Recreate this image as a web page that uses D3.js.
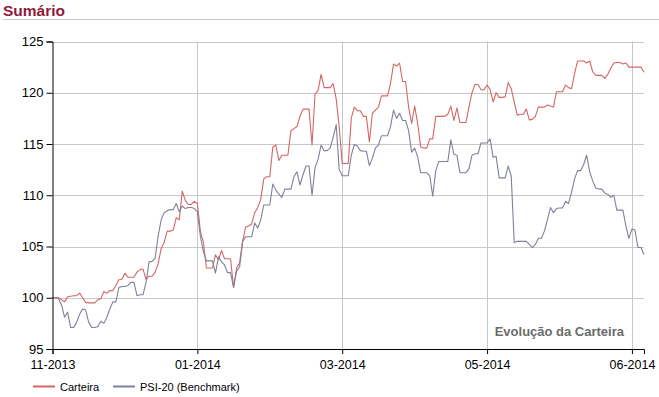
<!DOCTYPE html>
<html>
<head>
<meta charset="utf-8">
<script src="https://cdn.jsdelivr.net/npm/d3@7"></script>
<style>
  html, body { margin: 0; padding: 0; background: #fff; }
  svg { display: block; }
  text { font-family: Arial, "Liberation Sans", sans-serif; }
</style>
</head>
<body>
<svg id="chart" width="659" height="397"></svg>
<script>
// ---- data ----
const carteira = [
  100.0, 100.0, 100.0, 99.8, 99.6, 100.1, 100.15, 100.2, 100.2, 100.45,
  100.0, 99.55, 99.5, 99.5, 99.5, 99.8, 99.9, 100.6, 100.45, 100.7,
  100.7, 101.2, 101.75, 101.8, 102.4, 102.0, 102.0, 102.0, 102.5, 102.75,
  102.8, 101.8, 102.1, 102.1, 102.5, 103.3, 104.8, 105.4, 106.5, 106.5,
  106.6, 107.8, 107.6, 110.4, 109.5, 109.1, 109.1, 109.4, 109.2, 106.5,
  105.4, 102.9, 102.9, 102.9, 104.2, 103.7, 104.6, 103.8, 103.8, 103.8,
  101.0, 102.9, 103.4, 105.5, 106.9, 107.0, 107.2, 108.3, 108.8, 109.6,
  111.6, 111.8, 111.8, 114.7, 114.9, 113.4, 113.9, 113.9, 113.9, 116.3,
  116.5, 116.7, 117.7, 118.4, 118.4, 118.4, 114.9, 119.9, 120.2, 121.8,
  120.5, 120.5, 120.5, 120.9, 119.4, 116.7, 113.1, 113.1, 113.1, 117.5,
  118.6, 118.25, 118.25, 117.7, 117.7, 115.2, 118.0, 118.3, 118.6, 119.7,
  119.7, 119.7, 120.9, 122.8, 122.6, 122.9, 121.1, 121.1, 118.6, 117.0,
  118.7, 117.0, 114.7, 114.6, 114.6, 115.5, 115.5, 117.7, 117.7, 117.7,
  117.7, 117.9, 118.7, 117.3, 118.5, 117.1, 117.1, 117.1, 118.6, 120.0,
  120.8, 120.8, 120.3, 120.3, 120.75, 120.3, 119.1, 120.0, 119.55, 119.55,
  119.6, 121.0, 120.4, 119.1, 117.8, 117.9, 117.9, 118.4, 117.35, 117.4,
  117.7, 118.6, 118.6, 118.6, 118.8, 118.7, 118.6, 120.1, 120.1, 120.1,
  120.75, 120.5, 120.4, 121.9, 123.1, 123.1, 123.1, 122.9, 123.1, 122.05,
  121.7, 121.7, 121.7, 121.4, 121.8, 122.4, 122.9, 122.95, 122.95, 122.8,
  122.9, 122.5, 122.5, 122.5, 122.5, 122.5, 122.0
];
const psi20 = [
  100.0, 100.0, 99.9, 99.3, 98.1, 98.6, 97.1, 97.1, 97.6, 98.4,
  98.9, 98.8, 97.6, 97.1, 97.1, 97.2, 97.7, 97.5, 98.1, 98.9,
  99.6, 99.6, 101.0, 101.1, 101.1, 101.2, 101.5, 101.5, 100.2, 100.3,
  100.3, 101.5, 103.5, 103.55, 103.85, 106.0, 107.6, 108.3, 108.5, 108.6,
  108.6, 109.2, 108.4, 108.95, 108.7, 108.8, 108.8, 108.7, 108.4, 106.0,
  104.5, 103.6, 103.6, 103.6, 102.4, 104.0, 103.5, 103.2, 102.45, 102.45,
  101.0, 102.6, 103.0, 105.5, 105.95, 105.95, 105.95, 107.3, 106.8, 107.6,
  109.05, 109.05, 109.05, 111.1, 110.5, 110.1, 109.8, 110.6, 110.6, 110.6,
  111.8, 112.3, 111.0, 112.0, 112.85, 112.85, 110.0, 112.7, 113.5, 114.9,
  114.35, 114.35, 114.6, 115.65, 116.9, 112.5, 111.9, 111.9, 111.9, 113.9,
  114.95, 114.8, 114.35, 114.3, 114.3, 112.9, 113.6, 114.6, 114.9, 115.8,
  115.8, 115.8, 116.7, 118.3, 117.5, 118.0, 117.3, 117.3, 116.3, 114.2,
  114.6, 113.75, 112.2, 112.2, 112.2, 111.9, 109.9, 112.4, 113.3, 113.3,
  113.3, 113.3, 115.4, 114.0, 113.9, 112.2, 112.2, 112.2, 112.6, 113.9,
  114.05, 114.05, 115.1, 115.1, 115.1, 115.5, 113.7, 113.8, 111.7, 111.7,
  111.7, 112.85, 111.9, 105.4, 105.5, 105.5, 105.5, 105.5, 105.2, 104.9,
  105.2, 105.8, 105.8, 106.5, 107.6, 108.8, 108.3, 108.7, 108.75, 108.75,
  109.4, 109.2, 110.3, 111.6, 112.4, 112.4, 113.0, 113.9, 112.3, 111.4,
  110.7, 110.6, 110.6, 110.2, 110.1, 109.8, 110.0, 108.55, 108.55, 108.55,
  107.0, 105.8, 106.7, 106.6, 104.9, 104.9, 104.2
];
const xTickIndex = [0, 48, 96, 144, 192];
const xTickLabels = ["11-2013", "01-2014", "03-2014", "05-2014", "06-2014"];
const yTicks = [95, 100, 105, 110, 115, 120, 125];
const seriesNames = ["Carteira", "PSI-20 (Benchmark)"];
const titleText = "Sumário";
const watermarkText = "Evolução da Carteira";

// ---- drawing ----
(function () {
const svg = d3.select("#chart");
const mLeft = 52.5, mRight = 644, mTop = 41.5, mBottom = 349;
const colors = ["#d46666", "#7d8199"];

const x = d3.scaleLinear().domain([0, carteira.length - 1]).range([mLeft, mRight]);
const y = d3.scaleLinear().domain([95, 125]).range([mBottom, mTop]);

// title
svg.append("text").attr("x", 3).attr("y", 16)
  .attr("font-size", "15.5px").attr("font-weight", "bold")
  .attr("fill", "#8f1a3c").text(titleText);
svg.append("line").attr("x1", 3).attr("x2", 659).attr("y1", 19.5).attr("y2", 19.5)
  .attr("stroke", "#c8c8c8").attr("stroke-width", 1);

// grid
const grid = svg.append("g");
grid.selectAll("line.h").data(yTicks.filter(d => d !== 95)).join("line")
  .attr("x1", mLeft).attr("x2", mRight)
  .attr("y1", d => Math.round(y(d)) + 0.5).attr("y2", d => Math.round(y(d)) + 0.5)
  .attr("stroke", "#c8c8c8");
grid.selectAll("line.v").data(xTickIndex.slice(1)).join("line")
  .attr("y1", mTop).attr("y2", mBottom)
  .attr("x1", d => Math.round(x(d)) + 0.5).attr("x2", d => Math.round(x(d)) + 0.5)
  .attr("stroke", "#c8c8c8");

// lines
const line = d3.line().x((d, i) => x(i)).y(d => y(d));
[carteira, psi20].forEach((s, k) => {
  svg.append("path").datum(s).attr("d", line)
    .attr("fill", "none").attr("stroke", colors[k]).attr("stroke-width", 1.1)
    .attr("stroke-linejoin", "round");
});

// y axis
const yAxis = svg.append("g").attr("transform", `translate(${mLeft},0)`)
  .call(d3.axisLeft(y).tickValues(yTicks).tickSize(6).tickPadding(3).tickFormat(d3.format("d")));
yAxis.select(".domain").attr("stroke", "#000");
yAxis.selectAll("text").attr("font-size", "13px").attr("fill", "#000")
  .attr("font-family", "Arial, 'Liberation Sans', sans-serif");

// x axis
const xAxis = svg.append("g").attr("transform", `translate(0,${mBottom})`)
  .call(d3.axisBottom(x).tickValues(xTickIndex).tickSize(5).tickPadding(6)
    .tickFormat((d, i) => xTickLabels[i]));
xAxis.select(".domain").attr("stroke", "#000");
xAxis.selectAll("text").attr("font-size", "12.5px").attr("fill", "#000")
  .attr("font-family", "Arial, 'Liberation Sans', sans-serif");

// watermark label
svg.append("text").attr("x", 624).attr("y", 336).attr("text-anchor", "end")
  .attr("font-size", "13px").attr("font-weight", "bold").attr("fill", "#6b6b6b")
  .text(watermarkText);

// legend
const legendX = [33, 113];
seriesNames.forEach((name, k) => {
  svg.append("line").attr("x1", legendX[k]).attr("x2", legendX[k] + 22)
    .attr("y1", 386.5).attr("y2", 386.5).attr("stroke", colors[k]).attr("stroke-width", 2);
  svg.append("text").attr("x", legendX[k] + 27).attr("y", 390.5)
    .attr("font-size", "11px").attr("fill", "#000").text(name);
});
})();
</script>
</body>
</html>
